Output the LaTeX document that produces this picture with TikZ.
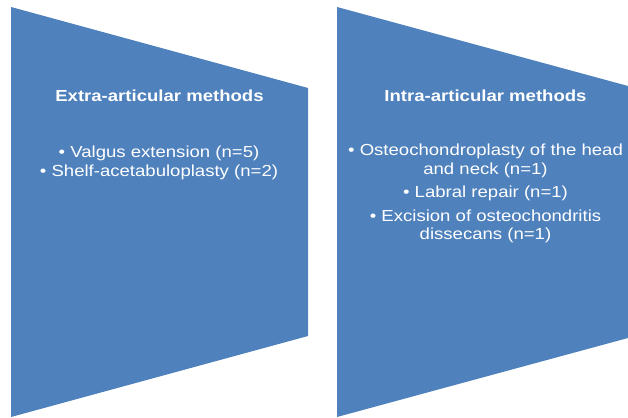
\documentclass[tikz,border=0pt]{standalone}
\usepackage{fontspec}
\setmainfont[FakeStretch=1.16]{Liberation Sans}
\definecolor{panelblue}{HTML}{4F81BD}

\begin{document}
\begin{tikzpicture}[x=1pt,y=1pt,
    heading/.style={text=white,anchor=base,font=\fontsize{16}{18.5}\selectfont\bfseries},
    itemlist/.style={text=white,align=center,font=\fontsize{16}{18.5}\selectfont}]
    % fix the page size
    \useasboundingbox (0,0) rectangle (628,417);

    % left panel: slanted top and bottom edges
    \fill[panelblue] (11,410) -- (308,329) -- (308,81) -- (11,0) -- cycle;
    % right panel, runs off the right edge
    \fill[panelblue] (337,410) -- (628,331) -- (628,79) -- (337,0) -- cycle;

    % Headings
    \node[heading] (extrahead) at (159.5,315.3) {Extra-articular methods};
    \node[heading] (intrahead) at (485.5,315.3) {Intra-articular methods};

    % Lists of procedures
    \node[itemlist] (extralist) at (159,254)
        {• Valgus extension (n=5)\\[1pt] • Shelf-acetabuloplasty (n=2)};
    \node[itemlist] (intralist) at (485.5,223.5)
        {• Osteochondroplasty of the head\\ and neck (n=1)\\[5pt]
         • Labral repair (n=1)\\[5pt]
         • Excision of osteochondritis\\ dissecans (n=1)};
\end{tikzpicture}
\end{document}
